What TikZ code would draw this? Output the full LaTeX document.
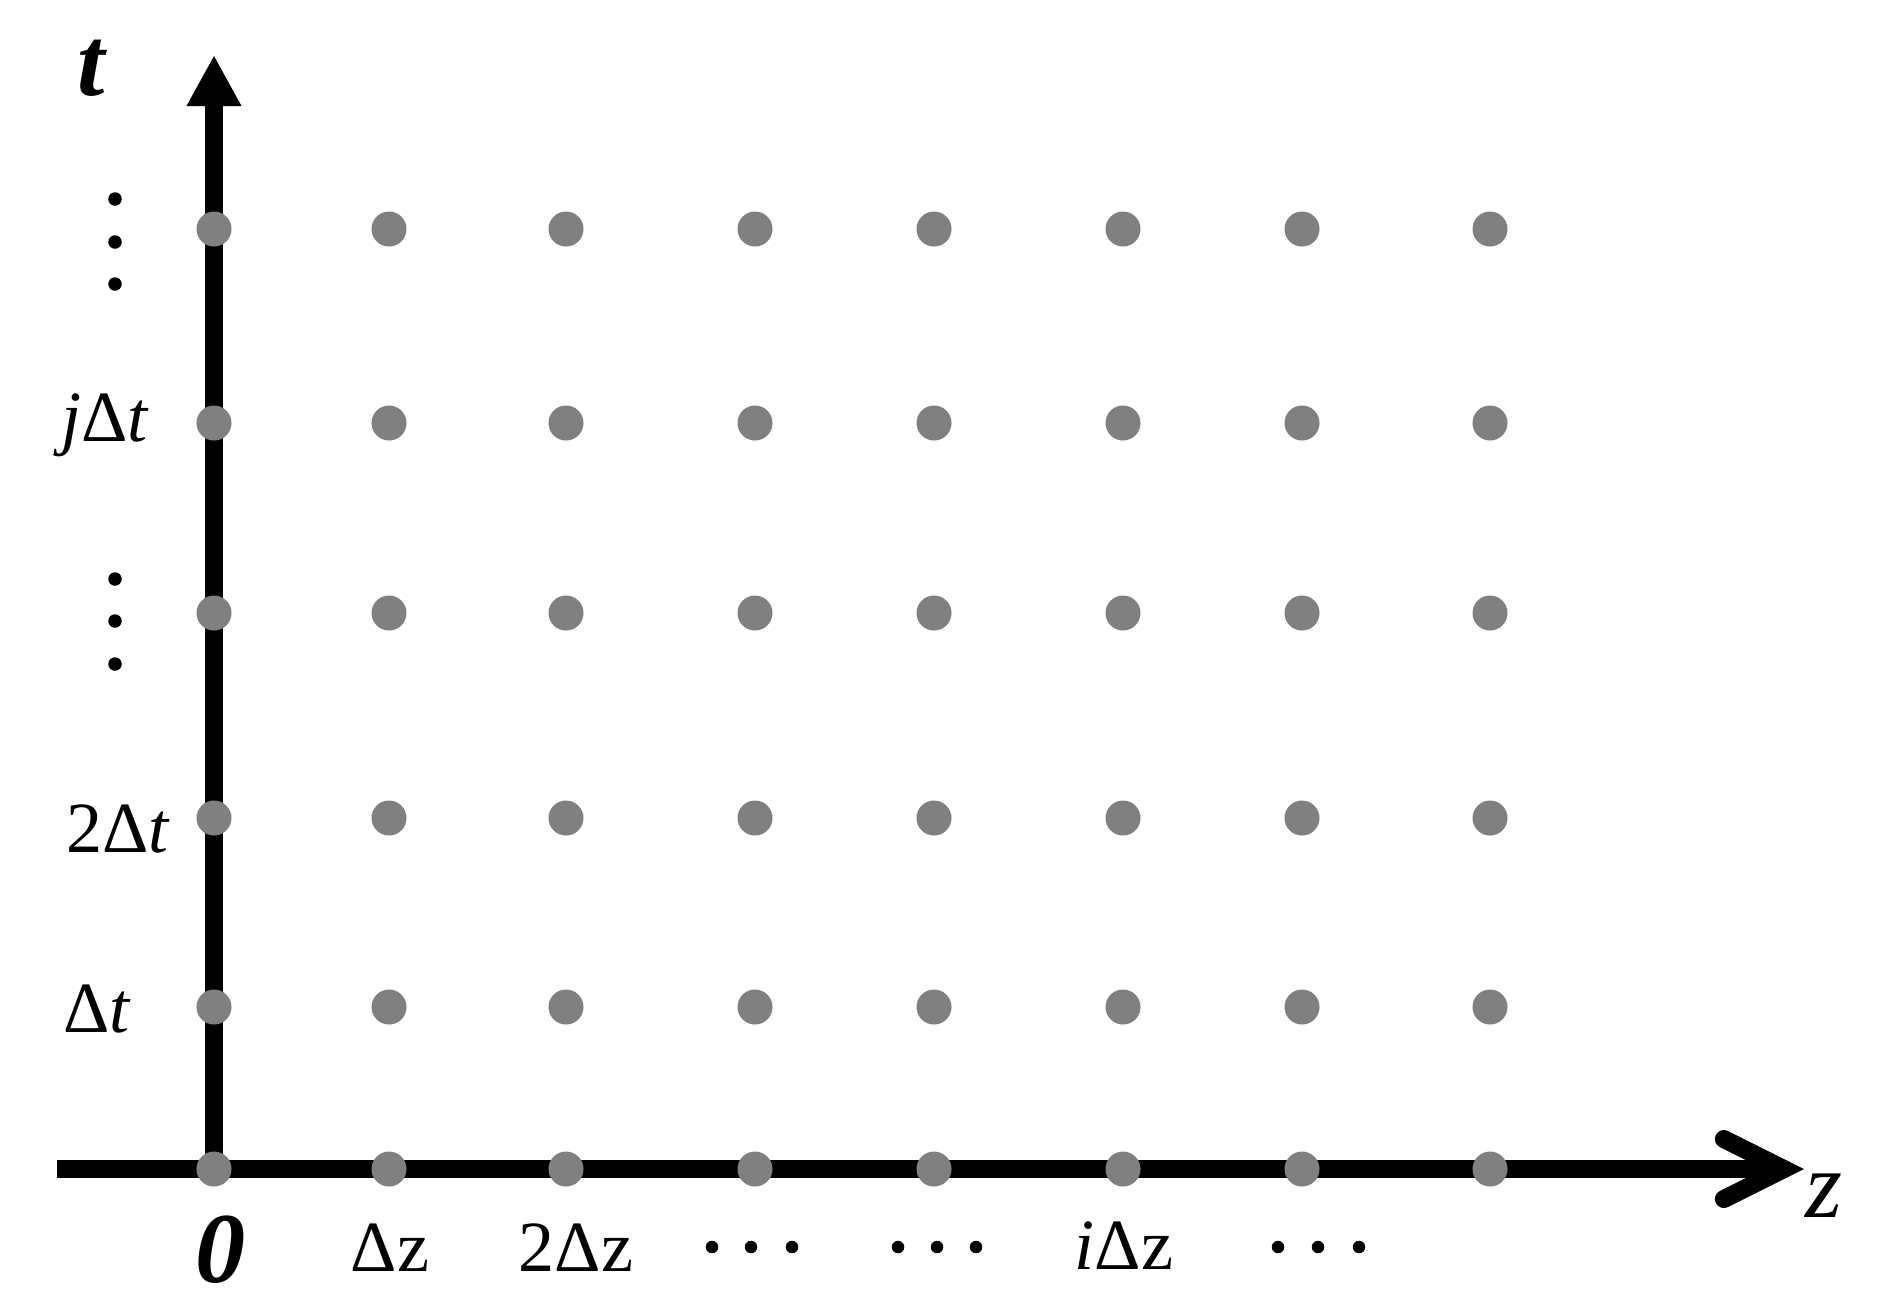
\documentclass[tikz,border=0pt]{standalone}
\usepackage{fontspec}
\setmainfont{Liberation Serif}
\usetikzlibrary{arrows.meta}
\definecolor{gris}{RGB}{128,128,128}

\begin{document}
\begin{tikzpicture}[x=0.01cm, y=-0.01cm]
\tikzset{pointgris/.style={circle, fill=gris, inner sep=0pt, minimum size=0.35cm},
  petitpoint/.style={circle, fill=black, inner sep=0pt, minimum size=0.135cm},
  axe/.style={line width=0.18cm},
  etiq/.style={anchor=base, inner sep=0pt, font=\fontsize{20.5}{24}\selectfont}}
\useasboundingbox (0,0) rectangle (1877,1314);
\coordinate (O) at (214,1169);
\coordinate (T) at (214,55);
\coordinate (Zd) at (57,1169);
\coordinate (Zf) at (1804,1169);
\draw[axe, -{Triangle[length=0.51cm, width=0.51cm]}] (O) -- (T);
\draw[axe, -{Straight Barb[length=0.6cm, width=0.6cm, line cap=round, line join=miter]}] (Zd) -- (Zf);
\foreach \y [count=\j] in {1169,1007,818,613,423,229}
  \foreach \x [count=\i] in {214,389,566,755,934,1123,1302,1490}
    \node[pointgris] (P\i-\j) at (\x,\y) {};
\node[etiq, font=\fontsize{28}{32}\selectfont\bfseries\itshape] (lt) at (91,95) {t};
\node[etiq] (ljt) at (105,441) {\textit{j}Δ\textit{t}};
\node[etiq] (l2t) at (118,852) {2Δ\textit{t}};
\node[etiq] (l1t) at (97,1032) {Δ\textit{t}};
\node[etiq, font=\fontsize{28.5}{32}\selectfont\bfseries\itshape] (l0) at (221,1282) {0};
\node[etiq] (l1z) at (390,1271) {Δz};
\node[etiq] (l2z) at (576,1271) {2Δz};
\node[etiq] (liz) at (1124,1269) {\textit{i}Δz};
\node[etiq, font=\fontsize{27}{30}\selectfont\itshape] (lz) at (1824,1217) {z};
\foreach \y [count=\k] in {199,242,284,579,621,664}
  \node[petitpoint] (V\k) at (115,\y) {};
\foreach \x [count=\k] in {712,751,792,898,937,976,1278,1318,1359}
  \node[petitpoint, minimum size=0.125cm] (H\k) at (\x,1247) {};
\end{tikzpicture}
\end{document}
